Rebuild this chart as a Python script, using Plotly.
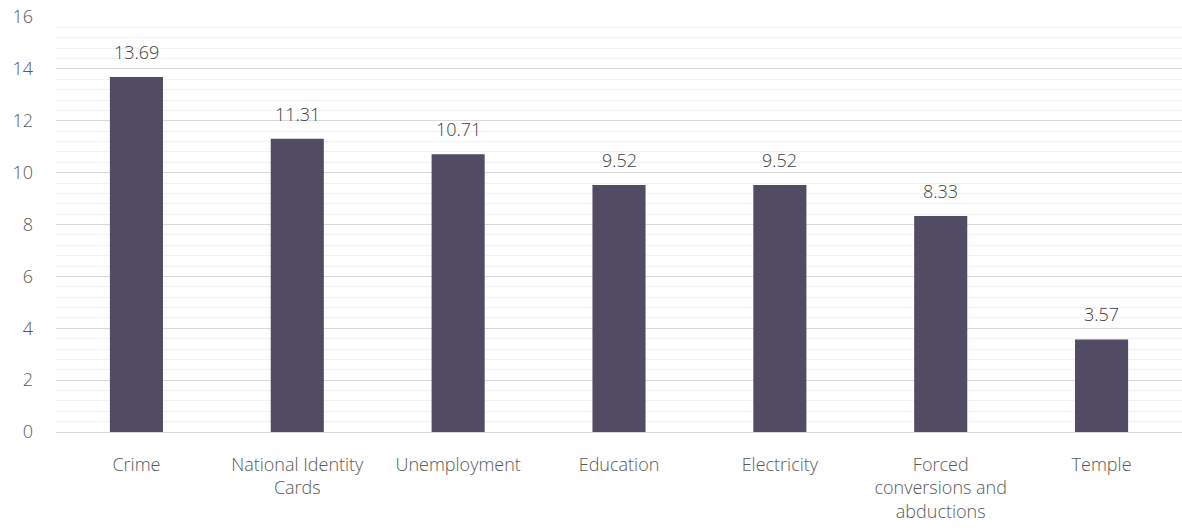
import plotly.graph_objects as go

categories = ["Crime", "National Identity<br>Cards", "Unemployment", "Education",
              "Electricity", "Forced<br>conversions and<br>abductions", "Temple"]
values = [13.69, 11.31, 10.71, 9.52, 9.52, 8.33, 3.57]
labels = ["13.69", "11.31", "10.71", "9.52", "9.52", "8.33", "3.57"]

FONT = "Open Sans"
FS = 18

fig = go.Figure()
fig.add_trace(go.Bar(
    x=categories, y=values,
    marker=dict(color="#514b63", line=dict(width=0)),
    width=0.33,
    hoverinfo="skip",
))

for c, v, t in zip(categories, values, labels):
    fig.add_annotation(x=c, y=v, text=t, showarrow=False, yanchor="bottom",
                       yshift=11, font=dict(family=FONT, size=FS, color="#404040", weight=300))

fig.update_layout(
    width=1182, height=532,
    margin=dict(l=56, r=0, t=17, b=100),
    plot_bgcolor="white", paper_bgcolor="white",
    showlegend=False,
    bargap=0.67,
    font=dict(family=FONT, size=FS, color="#595959", weight=300),
)
fig.update_xaxes(
    automargin=False,
    showgrid=False, showline=False, zeroline=False,
    tickfont=dict(family=FONT, size=FS, color="#595959", weight=300),
    ticklabelstandoff=20,
)
fig.update_yaxes(
    automargin=False,
    range=[0, 16], dtick=2, tick0=0,
    showgrid=True, gridcolor="#d9d9d9", gridwidth=1,
    zeroline=True, zerolinecolor="#d9d9d9", zerolinewidth=1,
    showline=False,
    tickfont=dict(family=FONT, size=FS, color="#595959", weight=300),
    ticklabelstandoff=22,
    minor=dict(dtick=0.4, tick0=0, showgrid=True, gridcolor="#f2f2f2", gridwidth=1),
)

fig.write_html("out.html", config={"displayModeBar": False},
               post_script="document.body.style.margin='0';document.body.style.overflow='hidden';")
